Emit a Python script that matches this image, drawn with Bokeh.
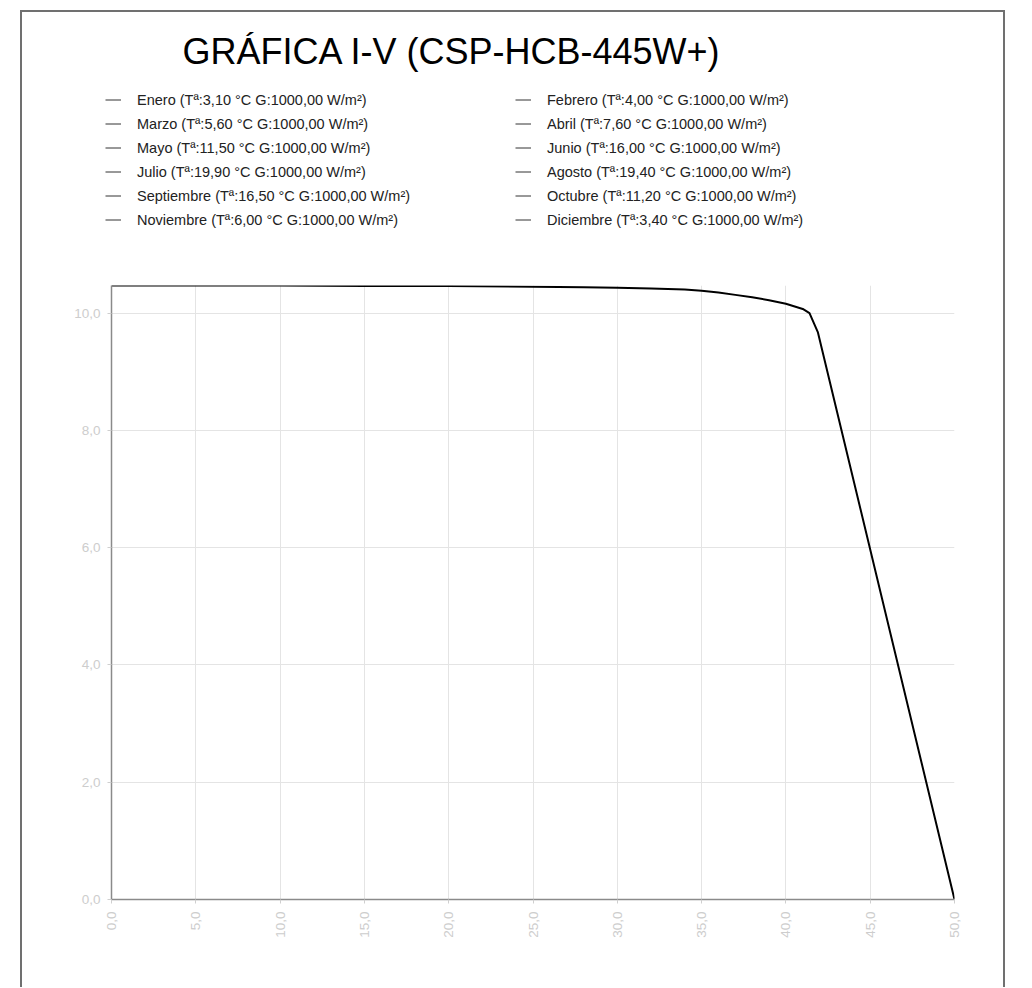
import math
from bokeh.plotting import figure
from bokeh.layouts import column
from bokeh.models import (Range1d, FixedTicker, Legend, LegendItem, Label,
                          CustomJSTickFormatter)
from bokeh.embed import file_html
from bokeh.resources import INLINE

# ---- data ----
title_text = "GRÁFICA I-V (CSP-HCB-445W+)"
voltage = [0.0, 5.0, 10.0, 15.0, 20.0, 25.0, 28.0, 30.0, 32.0, 34.0, 35.0,
           36.0, 37.0, 38.0, 39.0, 40.0, 41.0, 41.4, 41.9, 50.0]
current = [10.47, 10.47, 10.47, 10.46, 10.46, 10.45, 10.44, 10.43, 10.42, 10.40, 10.38,
           10.35, 10.31, 10.27, 10.22, 10.16, 10.07, 10.00, 9.67, 0.0]
months = ["Enero", "Febrero", "Marzo", "Abril", "Mayo", "Junio", "Julio",
          "Agosto", "Septiembre", "Octubre", "Noviembre", "Diciembre"]
temps = ["3,10", "4,00", "5,60", "7,60", "11,50", "16,00", "19,90",
         "19,40", "16,50", "11,20", "6,00", "3,40"]
irradiance = ["1000,00"] * 12
x_ticks = [0, 5, 10, 15, 20, 25, 30, 35, 40, 45, 50]
y_ticks = [0, 2, 4, 6, 8, 10]

FONT = "Liberation Sans"
BORDER = "2px solid #707070"

# ---------- header figure (title + legends) ----------
top = figure(width=981, height=230, x_range=Range1d(22, 1003), y_range=Range1d(242, 12),
             x_axis_type=None, y_axis_type=None, output_backend="svg",
             toolbar_location=None, min_border=0)
top.frame_align = False
top.outline_line_color = None
top.background_fill_color = "white"
top.border_fill_color = "white"
# legend proxy (no visible data)
proxy = top.line(x=[math.nan], y=[math.nan], line_color="#333333", line_width=1)

labels = [f"{m} (Tª:{t} °C G:{g} W/m²)" for m, t, g in zip(months, temps, irradiance)]

def make_legend(idx, loc):
    items = [LegendItem(label=labels[i], renderers=[proxy]) for i in idx]
    return Legend(items=items, location=loc, orientation="vertical",
                  border_line_color=None, background_fill_alpha=0,
                  padding=0, margin=0, spacing=3, label_height=21, glyph_height=21,
                  glyph_width=16, label_standoff=16,
                  label_text_font=FONT, label_text_font_size="14.5px",
                  label_text_color="#222222")

top.add_layout(make_legend([0, 2, 4, 6, 8, 10], (83, 12)))
top.add_layout(make_legend([1, 3, 5, 7, 9, 11], (493, 12)))
top.add_layout(Label(x=451.5, y=50.5, text=title_text, text_align="center",
                     text_baseline="alphabetic", text_font=FONT,
                     text_font_size="36px", text_color="black"))

# ---------- main I-V chart ----------
p = figure(width=981, height=745, output_backend="svg", toolbar_location=None,
           x_range=Range1d(0, 50), y_range=Range1d(0, max(current)),
           min_border_left=89, min_border_top=43, min_border_right=49,
           min_border_bottom=88)
p.frame_align = False
p.outline_line_color = None
p.background_fill_color = "white"
p.border_fill_color = "white"

p.line(voltage, current, line_color="black", line_width=2)

fmt = CustomJSTickFormatter(code="return tick.toFixed(1).replace('.', ',');")
for ax, ticks in ((p.xaxis[0], x_ticks), (p.yaxis[0], y_ticks)):
    ax.ticker = FixedTicker(ticks=ticks)
    ax.formatter = fmt
    ax.axis_line_color = "#8a8a8a"
    ax.axis_line_width = 1.5
    ax.major_tick_line_color = "#cfcfcf"
    ax.major_tick_in = 0
    ax.major_tick_out = 4
    ax.minor_tick_line_color = None
    ax.major_label_text_color = "#cdcdcd"
    ax.major_label_text_font = FONT
    ax.major_label_text_font_size = "13.5px"
p.xaxis.major_label_orientation = math.pi / 2
p.xaxis.major_label_standoff = 8
p.yaxis.major_label_standoff = 7

p.xgrid.grid_line_color = "#e4e4e4"
p.ygrid.grid_line_color = "#e4e4e4"

layout = column(top, p, margin=(10, 0, 0, 20),
                styles={"border-top": BORDER, "border-left": BORDER, "border-right": BORDER})

open("out.html", "w").write(file_html(layout, INLINE))
